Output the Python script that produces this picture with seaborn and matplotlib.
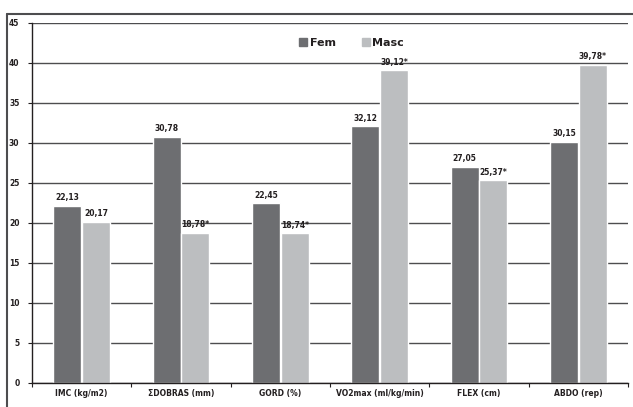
import matplotlib
matplotlib.use("Agg")
import matplotlib.pyplot as plt
from matplotlib.lines import Line2D
import seaborn as sns
import pandas as pd
import numpy as np

categories = ["IMC (kg/m2)", "ΣDOBRAS (mm)", "GORD (%)", "VO2max (ml/kg/min)", "FLEX (cm)", "ABDO (rep)"]
fem = [22.13, 30.78, 22.45, 32.12, 27.05, 30.15]
masc = [20.17, 18.78, 18.74, 39.12, 25.37, 39.78]
fem_labels = ["22,13", "30,78", "22,45", "32,12", "27,05", "30,15"]
masc_labels = ["20,17", "18,78*", "18,74*", "39,12*", "25,37*", "39,78*"]
yticks = [0, 5, 10, 15, 20, 25, 30, 35, 40, 45]

df = pd.DataFrame({
    "cat": categories * 2,
    "val": fem + masc,
    "sexo": ["Fem"] * len(fem) + ["Masc"] * len(masc),
})

sns.set_theme(style="white")
plt.rcParams['font.family'] = ['DejaVu Sans']

fig = plt.figure(figsize=(6.33, 4.07), dpi=100)
ax = fig.add_axes([32/633, 1-383/407, (628-32)/633, (383-23)/407])

sns.barplot(data=df, x="cat", y="val", hue="sexo", order=categories,
            palette={"Fem": "#6d6e71", "Masc": "#bcbec0"},
            width=0.58, gap=0.03, saturation=1, ax=ax, legend=False)

for cont, labs in zip(ax.containers, [fem_labels, masc_labels]):
    ax.bar_label(cont, labels=labs, padding=2.5, fontsize=5.5, fontweight="bold", color="#231f20")

ax.set_ylim(0, 45)
ax.set_xlim(-0.5, len(categories) - 0.5)
ax.set_yticks(yticks)
ax.set_yticklabels([str(t) for t in yticks], fontsize=5.5, fontweight="bold", color="#231f20")
ax.set_xticks(range(len(categories)))
ax.set_xticklabels(categories, fontsize=5.5, fontweight="bold", color="#231f20")
ax.tick_params(axis="x", length=0, pad=4)
ax.set_xticks(np.arange(-0.5, len(categories), 1.0), minor=True)
ax.tick_params(axis="x", which="minor", length=3, width=0.8, color="#231f20", bottom=True)
ax.tick_params(axis="y", length=3, width=0.8, color="#231f20", left=True, pad=6)
ax.set_xlabel("")
ax.set_ylabel("")
ax.yaxis.grid(True, color="#4d4d4f", linewidth=1.0)
ax.set_axisbelow(True)
for s in ["top", "right"]:
    ax.spines[s].set_visible(False)
for s in ["left", "bottom"]:
    ax.spines[s].set_color("#231f20")
    ax.spines[s].set_linewidth(1.0)

handles = [Line2D([], [], marker="s", linestyle="", markersize=5.5, color="#6d6e71"),
           Line2D([], [], marker="s", linestyle="", markersize=5.5, color="#bcbec0")]
leg = ax.legend(handles, ["Fem", "Masc"], loc="center", bbox_to_anchor=(0.535, 0.944),
                ncol=2, frameon=False, handletextpad=0.1, columnspacing=2.2,
                handlelength=1.0, prop={"size": 8, "weight": "bold"})
for t in leg.get_texts():
    t.set_color("#231f20")

# outer frame (left and top)
fig.add_artist(Line2D([7/633, 7/633], [0, 1-14/407], transform=fig.transFigure, color="#4d4d4f", lw=1.5))
fig.add_artist(Line2D([7/633, 1], [1-14/407, 1-14/407], transform=fig.transFigure, color="#4d4d4f", lw=1.5))

fig.savefig("out.png", dpi=100)
